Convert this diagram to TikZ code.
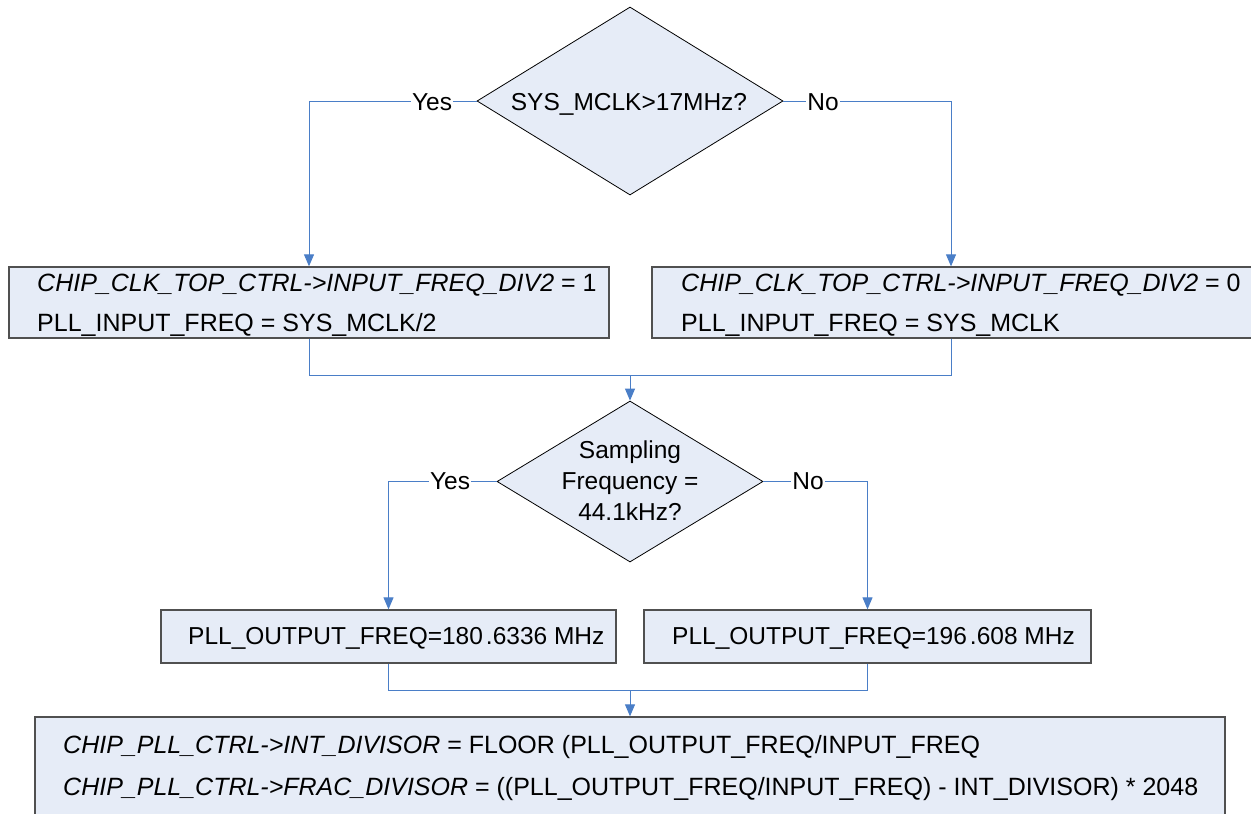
\documentclass[tikz,border=0pt]{standalone}
\usepackage{fontspec}
\setmainfont{Liberation Sans}
\usetikzlibrary{shapes.geometric,arrows.meta}
\definecolor{boxfill}{HTML}{E6ECF7}
\definecolor{flowblue}{HTML}{4A7EC7}
\definecolor{boxedge}{HTML}{505050}
\begin{document}
\begin{tikzpicture}[x=1pt,y=-1pt,
  txt/.style={inner sep=0pt, font=\fontsize{24.5}{30}\selectfont},
  wide/.style={txt, font=\fontsize{25}{30}\selectfont},
  decision/.style={diamond, draw=black, fill=boxfill, line width=0.8pt, inner sep=0pt},
  stepbox/.style={rectangle, draw=boxedge, fill=boxfill, line width=1.3pt, inner sep=0pt},
  flow/.style={draw=flowblue, line width=1pt},
  arrowflow/.style={flow, -{Triangle[length=12pt,width=10pt]}},
  tag/.style={txt, fill=white, inner xsep=1pt, inner ysep=2pt, anchor=base}
]
\useasboundingbox (0,0) rectangle (1251,814);
\clip (0,0) rectangle (1251,814);

% decision shapes
\node[decision, minimum width=306pt, minimum height=188pt] (d1) at (630,101) {};
\node[txt, anchor=base] (d1t) at (629,110) {SYS\_MCLK>17MHz?};

\node[decision, minimum width=266pt, minimum height=161pt] (d2) at (630,481.5) {};
\node[txt, anchor=base] (d2a) at (630,458) {Sampling};
\node[txt, anchor=base] (d2b) at (630,489) {Frequency =};
\node[txt, anchor=base] (d2c) at (630,520) {44.1kHz?};

% process boxes
\node[stepbox, minimum width=600pt, minimum height=71pt] (b1) at (309,302.5) {};
\node[wide, anchor=base west] (b1a) at (37,291) {\textit{CHIP\_CLK\_TOP\_CTRL->INPUT\_FREQ\_DIV2} = 1};
\node[wide, anchor=base west] (b1b) at (37,331) {PLL\_INPUT\_FREQ = SYS\_MCLK/2};

\node[stepbox, minimum width=604pt, minimum height=71pt] (b2) at (954,302.5) {};
\node[wide, anchor=base west] (b2a) at (681,291) {\textit{CHIP\_CLK\_TOP\_CTRL->INPUT\_FREQ\_DIV2} = 0};
\node[wide, anchor=base west] (b2b) at (681,331) {PLL\_INPUT\_FREQ = SYS\_MCLK};

\node[stepbox, minimum width=455pt, minimum height=53pt] (b3) at (388.5,636.5) {};
\node[txt, anchor=base west] (b3a) at (188,644) {PLL\_OUTPUT\_FREQ=180\kern3pt.6336 MHz};

\node[stepbox, minimum width=447pt, minimum height=53pt] (b4) at (867.5,636.5) {};
\node[txt, anchor=base west] (b4a) at (672,644) {PLL\_OUTPUT\_FREQ=196\kern3pt.608 MHz};

\node[stepbox, minimum width=1190pt, minimum height=123pt] (b5) at (630,778.5) {};
\node[wide, anchor=base west] (b5a) at (63,753) {\textit{CHIP\_PLL\_CTRL->INT\_DIVISOR} = FLOOR (PLL\_OUTPUT\_FREQ/INPUT\_FREQ};
\node[wide, anchor=base west] (b5b) at (63,795) {\textit{CHIP\_PLL\_CTRL->FRAC\_DIVISOR} = ((PLL\_OUTPUT\_FREQ/INPUT\_FREQ) - INT\_DIVISOR) * 2048};

% junction points
\coordinate (m1) at (630,375);
\coordinate (m2) at (630,690);

% first decision branches
\draw[arrowflow] (d1.west) -| (b1.north);
\draw[arrowflow] (d1.east) -| ([xshift=-3pt]b2.north);
\node[tag] (y1) at (432,110) {Yes};
\node[tag] (n1) at (823,110) {No};

% merge into second decision
\draw[flow] (b1.south) |- (m1);
\draw[flow] ([xshift=-3pt]b2.south) |- (m1);
\draw[arrowflow] (m1) -- (d2.north);

% second decision branches
\draw[arrowflow] (d2.west) -| (b3.north);
\draw[arrowflow] (d2.east) -| (b4.north);
\node[tag] (y2) at (450,489) {Yes};
\node[tag] (n2) at (808,489) {No};

% merge into divisor box
\draw[flow] (b3.south) |- (m2);
\draw[flow] (b4.south) |- (m2);
\draw[arrowflow] (m2) -- (b5.north);
\end{tikzpicture}
\end{document}
